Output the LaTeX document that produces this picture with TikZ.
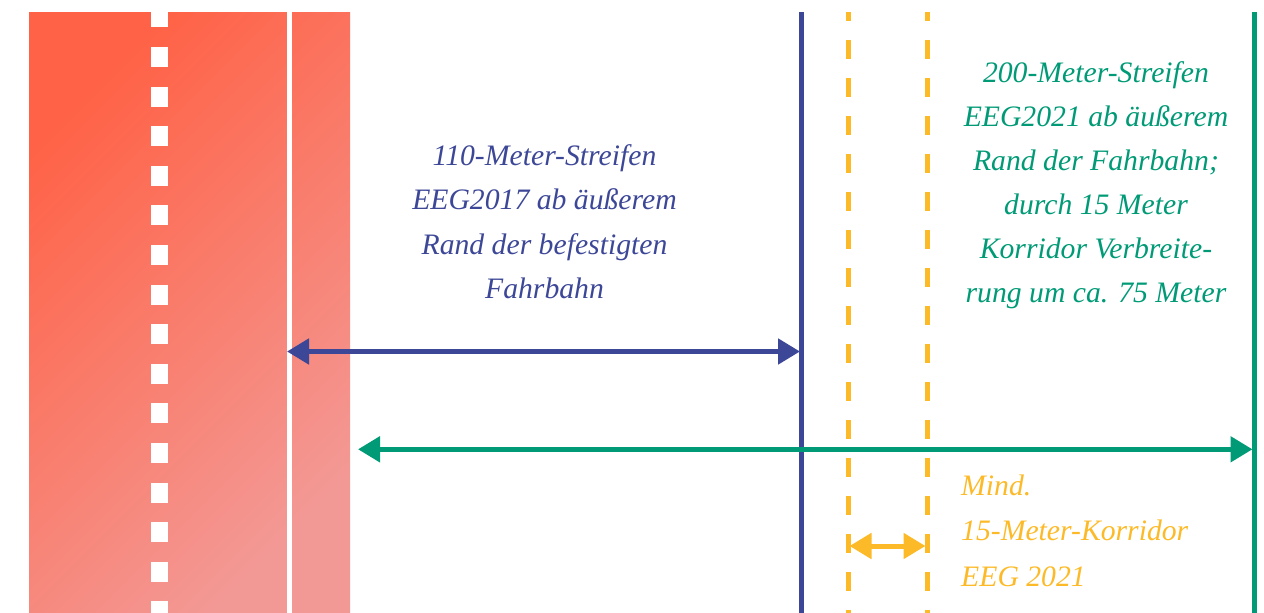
\documentclass[tikz,border=0pt]{standalone}
\usepackage{fontspec}
\setmainfont{Liberation Serif}
\usetikzlibrary{arrows.meta}
\definecolor{cblue}{RGB}{61,71,151}
\definecolor{cgreen}{RGB}{0,154,118}
\definecolor{cyellow}{RGB}{252,186,40}
\definecolor{roadA}{RGB}{255,98,70}
\definecolor{roadB}{RGB}{243,153,149}
\tikzset{
  txt/.style={font=\fontsize{29.7}{44}\selectfont\itshape, inner sep=0pt, anchor=base},
  txtl/.style={txt, anchor=base west},
  dimarrow/.style={line width=5pt, {Triangle[length=22pt,width=25pt]}-{Triangle[length=22pt,width=25pt]}},
  vline/.style={line width=5pt},
}
\begin{document}
\begin{tikzpicture}[x=1pt,y=-1pt]
\useasboundingbox (0,0) rectangle (1264,613);
% road
\shade[top color=roadA,bottom color=roadB,shading angle=45] (29,12) rectangle (350,613);
\draw[white,line width=17pt,dash pattern=on 20pt off 19.6pt,dash phase=4.6pt] (159.5,12) -- (159.5,613);
\draw[white,line width=5.5pt] (289.3,12) -- (289.3,613);
% vertical lines
\draw[cblue,line width=4.5pt] (801.5,12) -- (801.5,613);
\draw[cyellow,vline,dash pattern=on 19pt off 19pt,dash phase=10pt] (848,12) -- (848,613);
\draw[cyellow,vline,dash pattern=on 19pt off 19pt,dash phase=10pt] (927,12) -- (927,613);
\draw[cgreen,vline] (1254.5,12) -- (1254.5,613);
% arrow end points
\coordinate (bL) at (287,351.5);
\coordinate (bR) at (800,351.5);
\coordinate (gL) at (358,449.3);
\coordinate (gR) at (1252.5,449.3);
\coordinate (yL) at (849.5,546);
\coordinate (yR) at (925.5,546);
\draw[cblue,dimarrow] (bL) -- (bR);
\draw[cgreen,dimarrow] (gL) -- (gR);
\draw[cyellow,dimarrow] (yL) -- (yR);
% blue text
\node[txt,text=cblue] (b1) at (544.5,165) {110-Meter-Streifen};
\node[txt,text=cblue] (b2) at (544.5,209.5) {EEG2017 ab äußerem};
\node[txt,text=cblue] (b3) at (544.5,254) {Rand der befestigten};
\node[txt,text=cblue] (b4) at (544.5,298.5) {Fahrbahn};
% green text
\node[txt,text=cgreen] (g1) at (1096,82) {200-Meter-Streifen};
\node[txt,text=cgreen] (g2) at (1096,126) {EEG2021 ab äußerem};
\node[txt,text=cgreen] (g3) at (1096,170) {Rand der Fahrbahn;};
\node[txt,text=cgreen] (g4) at (1096,214) {durch 15 Meter};
\node[txt,text=cgreen] (g5) at (1096,258) {Korridor Verbreite-};
\node[txt,text=cgreen] (g6) at (1096,302) {rung um ca. 75 Meter};
% yellow text
\node[txtl,text=cyellow] (y1) at (961,495) {Mind.};
\node[txtl,text=cyellow] (y2) at (961,540.5) {15-Meter-Korridor};
\node[txtl,text=cyellow] (y3) at (961,586) {EEG 2021};
\end{tikzpicture}
\end{document}
